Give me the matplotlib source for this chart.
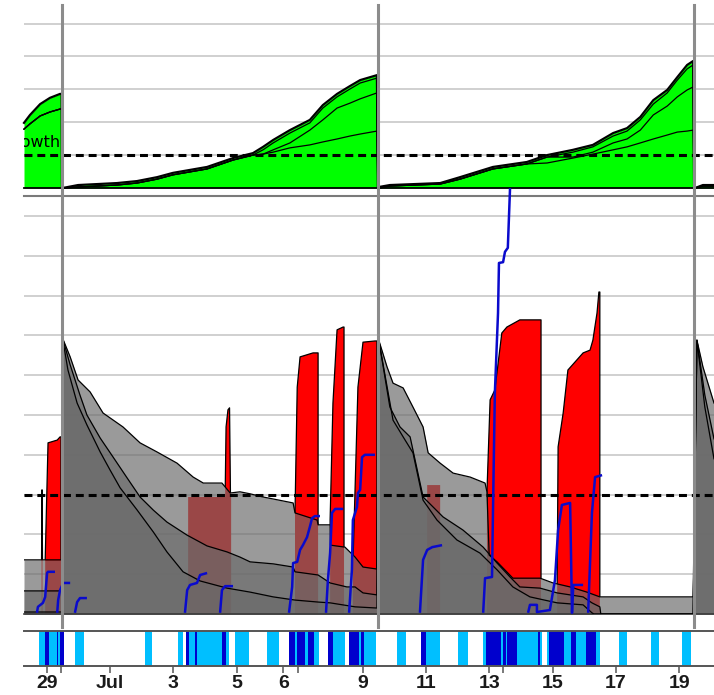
import numpy as np
import matplotlib
matplotlib.use('Agg')
import matplotlib.pyplot as plt
from matplotlib.lines import Line2D
from matplotlib.patches import Polygon
from matplotlib.transforms import blended_transform_factory

# ---------------- data (x = day relative to 1 July; 29 June = -1) ----------------
x_range = (-1.72, 20.10)
period_breaks = [-0.52, 9.47, 19.47]

tick_pos = [-1.0, -0.56, 1.0, 3.0, 5.0, 6.48, 6.96, 9.0, 11.0, 13.0, 13.44, 15.0, 17.0, 19.0]
tick_labels = ['29', '', 'Jul', '3', '5', '6', '', '9', '11', '13', '', '15', '17', '19']

growth_threshold = 1.0
stress_threshold = 3.0

# top panel: cumulative growth curves
green_x = [-1.72, -1.53, -1.21, -0.90, -0.58, -0.53, -0.52,
           -0.50, -0.01, 1.22, 1.85, 2.49, 2.99, 4.07, 4.89, 5.52, 5.84, 6.16, 6.69, 7.32, 7.73, 8.18, 8.59, 8.91, 9.44,
           9.47,
           9.50, 9.85, 11.44, 12.07, 13.11, 14.18, 14.82, 15.64, 16.27, 16.91, 17.35, 17.77, 18.18, 18.62, 18.94, 19.25, 19.44,
           19.47,
           19.50, 19.75, 20.10]
green_top = [1.98, 2.22, 2.55, 2.74, 2.86, 2.86, 0,
             0, 0.09, 0.15, 0.21, 0.33, 0.46, 0.64, 0.91, 1.06, 1.25, 1.46, 1.76, 2.07, 2.52, 2.86, 3.10, 3.28, 3.43,
             0,
             0.03, 0.09, 0.15, 0.33, 0.64, 0.79, 1.00, 1.16, 1.31, 1.67, 1.82, 2.16, 2.67, 2.98, 3.37, 3.74, 3.86,
             0,
             0, 0.09, 0.09]
green_l2 = [1.79, 1.95, 2.19, 2.31, 2.40, 2.40, 0,
            0, 0.03, 0.09, 0.15, 0.27, 0.40, 0.58, 0.85, 1.00, 1.16, 1.37, 1.67, 1.98, 2.43, 2.77, 3.01, 3.19, 3.34,
            0,
            0, 0.06, 0.12, 0.27, 0.58, 0.73, 0.94, 1.09, 1.25, 1.58, 1.73, 2.07, 2.55, 2.89, 3.28, 3.62, 3.74,
            0,
            0, 0.06, 0.06]
green_l3 = [1.79, 1.95, 2.19, 2.31, 2.40, 2.40, 0,
            0, 0.03, 0.09, 0.15, 0.27, 0.40, 0.58, 0.85, 1.00, 1.03, 1.16, 1.37, 1.76, 2.07, 2.43, 2.58, 2.71, 2.89,
            0,
            0, 0.06, 0.12, 0.27, 0.58, 0.73, 0.94, 0.94, 1.09, 1.37, 1.49, 1.76, 2.22, 2.49, 2.77, 2.98, 3.07,
            0,
            0, 0.06, 0.06]
green_l4 = [1.79, 1.95, 2.19, 2.31, 2.40, 2.40, 0,
            0, 0.03, 0.09, 0.15, 0.27, 0.40, 0.58, 0.85, 1.00, 1.03, 1.09, 1.22, 1.31, 1.40, 1.49, 1.58, 1.64, 1.73,
            0,
            0, 0.06, 0.12, 0.27, 0.58, 0.73, 0.76, 0.91, 1.03, 1.16, 1.25, 1.37, 1.49, 1.61, 1.70, 1.73, 1.76,
            0,
            0, 0.06, 0.06]

# middle panel: gray decay curves
gray_top_x = [-1.72, -0.53, -0.50, -0.26, -0.01, 0.37, 0.78, 1.41, 1.95, 2.49, 3.12, 3.63, 3.95, 4.54, 4.80,
              5.11, 5.43, 5.84, 6.16, 6.79, 6.85, 7.55, 7.58, 7.96, 7.97, 8.43, 8.75, 9.00, 9.44,
              9.50, 9.76, 9.95, 10.27, 10.58, 10.90, 11.06, 11.44, 11.85, 12.39, 12.86, 12.92, 12.99, 13.24,
              13.74, 14.60, 15.01, 15.55, 16.08, 16.49, 19.44, 19.56, 19.75, 20.10]
gray_top_y = [1.36, 1.36, 6.93, 6.46, 5.88, 5.58, 5.05, 4.70, 4.30, 4.07, 3.79, 3.44, 3.29, 3.29, 3.04,
              3.07, 3.02, 2.94, 2.89, 2.79, 2.54, 2.36, 2.24, 2.24, 1.73, 1.68, 1.43, 1.18, 1.13,
              6.88, 6.21, 5.80, 5.68, 5.20, 4.70, 4.05, 3.79, 3.54, 3.44, 3.29, 3.07, 1.48, 1.31,
              0.90, 0.90, 0.78, 0.68, 0.55, 0.43, 0.43, 6.88, 6.21, 5.30]
gray_mid_x = [-1.72, -0.53, -0.50, -0.26, 0.05, 0.27, 0.69, 1.10, 1.54, 1.95, 2.37, 2.80, 3.44, 4.07, 4.70,
              5.11, 5.43, 6.16, 6.79, 6.85, 7.58, 7.96, 8.49, 8.75, 9.00, 9.44,
              9.50, 9.85, 10.17, 10.49, 10.90, 11.53, 12.16, 12.80, 13.24, 13.65, 13.96, 14.60, 15.14, 15.96,
              16.24, 16.49, 16.52, 19.44, 19.56, 19.81, 20.10]
gray_mid_y = [0.58, 0.58, 6.93, 6.26, 5.50, 5.00, 4.42, 3.94, 3.42, 2.94, 2.61, 2.31, 1.98, 1.71, 1.56,
              1.43, 1.31, 1.26, 1.18, 1.06, 0.98, 0.78, 0.68, 0.68, 0.53, 0.48,
              6.88, 5.20, 4.70, 4.45, 2.94, 2.44, 2.11, 1.68, 1.28, 0.93, 0.68, 0.65, 0.53, 0.43,
              0.28, 0.18, 0.00, 0.00, 6.88, 5.50, 4.40]
gray_low_x = [-1.72, -0.53, -0.50, -0.33, -0.04, 0.27, 0.69, 1.00, 1.32, 1.86, 2.37, 2.80, 3.31, 3.85, 4.70,
              5.43, 6.16, 6.85, 7.58, 7.96, 8.75, 9.44,
              9.50, 9.95, 10.27, 10.58, 10.90, 11.34, 11.97, 12.70, 13.24, 13.74, 14.28, 15.14, 15.96, 16.24,
              16.30, 19.44, 19.56, 19.81, 20.10]
gray_low_y = [0.05, 0.05, 6.93, 6.13, 5.30, 4.75, 4.07, 3.62, 3.17, 2.61, 2.06, 1.56, 1.06, 0.83, 0.65,
              0.55, 0.43, 0.35, 0.30, 0.28, 0.18, 0.15,
              6.88, 4.87, 4.45, 4.05, 2.86, 2.36, 1.86, 1.53, 1.11, 0.68, 0.43, 0.28, 0.23, 0.03,
              0.00, 0.00, 6.88, 5.20, 3.90]

# middle panel: red areas
red_x = [-1.165, -1.165, -1.15, -1.135, -1.135,
         -1.05, -1.05, -0.96, -0.67, -0.58, -0.55, -0.55,
         3.47, 3.47, 4.64, 4.67, 4.73, 4.78, 4.81, 4.83, 4.83,
         6.85, 6.85, 6.92, 7.01, 7.42, 7.58, 7.58,
         7.96, 7.96, 8.05, 8.18, 8.37, 8.40, 8.40,
         8.68, 8.68, 8.84, 9.00, 9.38, 9.44, 9.44,
         11.03, 11.03, 11.44, 11.44,
         12.92, 12.92, 13.02, 13.17, 13.39, 13.55, 13.96, 14.63, 14.63,
         15.14, 15.14, 15.17, 15.33, 15.48, 15.96, 16.18, 16.27, 16.40, 16.46, 16.49, 16.49]
red_y = [0, 1.36, 3.12, 1.36, 0,
         0, 1.36, 4.30, 4.37, 4.45, 4.45, 0,
         0, 2.94, 2.94, 4.70, 5.13, 5.18, 2.94, 2.94, 0,
         0, 2.54, 5.70, 6.46, 6.56, 6.56, 0,
         0, 2.36, 5.30, 7.14, 7.21, 7.21, 0,
         0, 1.18, 5.70, 6.83, 6.86, 6.86, 0,
         0, 3.24, 3.24, 0,
         0, 3.07, 5.38, 5.63, 7.06, 7.21, 7.39, 7.39, 0,
         0, 0.78, 4.20, 5.05, 6.13, 6.56, 6.63, 6.88, 7.56, 8.09, 8.09, 0]

# middle panel: blue cumulative lines (NaN separates runs)
nan = np.nan
blue_x = [-1.31, -1.28, -1.12, -1.05, -0.99, -0.96, -0.74, nan,
          -0.67, -0.64, -0.58, -0.48, -0.26, nan,
          -0.11, -0.04, 0.05, 0.27, nan,
          3.37, 3.44, 3.53, 3.75, 3.85, 4.07, nan,
          4.48, 4.54, 4.64, 4.89, nan,
          6.66, 6.76, 6.79, 6.92, 7.01, 7.10, 7.23, 7.32, 7.39, 7.48, 7.64, nan,
          7.83, 7.89, 7.96, 8.02, 8.12, 8.37, nan,
          8.56, 8.65, 8.68, 8.81, 8.84, 8.91, 8.97, 9.06, 9.38, nan,
          10.80, 10.90, 11.03, 11.19, 11.50, nan,
          12.80, 12.86, 13.08, 13.11, 13.17, 13.27, 13.30, 13.43, 13.49, 13.58, 13.65, nan,
          14.22, 14.28, 14.50, 14.50, 14.91, 15.07, 15.17, 15.29, 15.55, 15.61, 15.65, 15.96, nan,
          16.12, 16.24, 16.34, 16.56]
blue_y = [0.03, 0.18, 0.28, 0.43, 1.03, 1.06, 1.06, nan,
          0.03, 0.35, 0.60, 0.78, 0.78, nan,
          0.03, 0.30, 0.40, 0.40, nan,
          0.03, 0.60, 0.73, 0.78, 0.98, 1.03, nan,
          0.03, 0.60, 0.70, 0.70, nan,
          0.03, 0.68, 1.28, 1.31, 1.61, 1.73, 1.93, 2.19, 2.41, 2.46, 2.46, nan,
          0.03, 0.85, 1.53, 2.54, 2.64, 2.64, nan,
          0.03, 1.11, 2.36, 2.69, 3.04, 3.12, 3.94, 4.00, 4.00, nan,
          0.03, 1.36, 1.61, 1.68, 1.73, nan,
          0.03, 0.90, 0.93, 2.54, 5.55, 7.56, 8.82, 8.84, 9.10, 9.20, 10.70, nan,
          0.03, 0.23, 0.23, 0.05, 0.10, 0.85, 2.11, 2.74, 2.79, 0.03, 0.73, 0.73, nan,
          0.03, 2.54, 3.44, 3.49]

# bottom strip: event bands
light_start = [-1.24, -0.11, 2.11, 3.15, 3.50, 4.95, 5.96, 6.66, 7.89, 8.59, 10.08, 10.83, 12.00, 12.79, 14.82, 17.09, 18.11, 19.09]
light_end   = [-0.58, 0.18, 2.33, 3.31, 4.76, 5.39, 6.34, 7.61, 8.43, 9.41, 10.36, 11.43, 12.32, 14.66, 16.49, 17.35, 18.36, 19.38]
dark_start = [-1.05, -0.67, -0.58, 3.40, 3.69, 4.54, 6.66, 6.92, 7.26, 7.89, 8.56, 8.94, 10.83, 12.89, 13.43, 13.55, 14.53, 14.88, 15.58, 16.05]
dark_end   = [-0.93, -0.64, -0.45, 3.50, 3.75, 4.67, 6.85, 7.17, 7.45, 8.05, 8.87, 9.03, 10.99, 13.36, 13.52, 13.87, 14.60, 15.36, 15.73, 16.37]

# ---------------- figure ----------------
W, H = 714, 695
fig = plt.figure(figsize=(W / 100, H / 100), dpi=100)
fig.patch.set_facecolor('white')

L, Wd = 24 / W, 690 / W
ax_t = fig.add_axes([L, 1 - 188 / H, Wd, 188 / H])
ax_m = fig.add_axes([L, 1 - 614 / H, Wd, 418 / H])
ax_s = fig.add_axes([L, 1 - 666 / H, Wd, 35 / H])

for ax in (ax_t, ax_m, ax_s):
    ax.set_xlim(*x_range)
    ax.set_yticks([])
    ax.set_facecolor('white')
    for sp in ('left', 'right'):
        ax.spines[sp].set_visible(False)

ax_t.set_ylim(0, 188 / 32.9)
ax_m.set_ylim(0, 418 / 39.8)
ax_s.set_ylim(0, 1)

grid_kw = dict(color='#d0d0d0', lw=1.4, zorder=0)
for lv in range(1, 6):
    ax_t.axhline(lv, **grid_kw)
for lv in range(1, 11):
    ax_m.axhline(lv, **grid_kw)

dash_kw = dict(color='black', lw=2.2, linestyle=(0, (2.6, 1.6)), zorder=6)

# ---- top panel ----
ax_t.spines['top'].set_visible(False)
ax_t.spines['bottom'].set_color('black')
ax_t.spines['bottom'].set_linewidth(1.3)
ax_t.spines['bottom'].set_zorder(5)
ax_t.set_xticks([])
ax_t.fill_between(green_x, 0, green_top, color='#00ff00', lw=0, zorder=1)
for yy, lw in ((green_l4, 0.9), (green_l3, 0.9), (green_l2, 0.9), (green_top, 1.6)):
    ax_t.plot(green_x, yy, color='black', lw=lw, zorder=3, clip_on=False)
ax_t.axhline(growth_threshold, **dash_kw)
ax_t.text(-2.41, 1.25, 'Growth', fontsize=11.5, color='black', ha='left', va='baseline',
          clip_on=True, zorder=4)

# ---- middle panel ----
ax_m.set_xticks([])
ax_m.spines['top'].set_color('#7a7a7a')
ax_m.spines['top'].set_linewidth(1.5)
ax_m.spines['bottom'].set_color('#3a3a3a')
ax_m.spines['bottom'].set_linewidth(1.2)

ax_m.fill(red_x, red_y, color='#ff0000', lw=0, zorder=1)
for gx, gy in ((gray_top_x, gray_top_y), (gray_mid_x, gray_mid_y), (gray_low_x, gray_low_y)):
    ax_m.fill_between(gx, 0, gy, color='#6a6a6a', alpha=0.68, lw=0, zorder=2)
for gx, gy in ((gray_top_x, gray_top_y), (gray_mid_x, gray_mid_y), (gray_low_x, gray_low_y)):
    ax_m.plot(gx, gy, color='black', lw=0.9, zorder=3)

above = Polygon(list(zip(gray_top_x, gray_top_y)) + [(25, 30), (-5, 30)], closed=True,
                transform=ax_m.transData)
red_edge, = ax_m.plot(red_x, red_y, color='black', lw=0.9, zorder=3)
red_edge.set_clip_path(above)

ax_m.axhline(stress_threshold, **dash_kw)
ax_m.plot(blue_x, blue_y, color='#0a0acc', lw=1.8, zorder=7, clip_on=False,
          solid_joinstyle='round', solid_capstyle='butt')

# ---- bottom strip ----
for s, e in zip(light_start, light_end):
    ax_s.axvspan(s, e, color='#00bfff', lw=0, zorder=1)
for s, e in zip(dark_start, dark_end):
    ax_s.axvspan(s, e, color='#0000cd', lw=0, zorder=2)
for sp in ('top', 'bottom'):
    ax_s.spines[sp].set_color('#555555')
    ax_s.spines[sp].set_linewidth(1.4)
ax_s.set_xticks(tick_pos)
ax_s.set_xticklabels(tick_labels, fontsize=14, fontweight='bold', family='Liberation Sans',
                     color='#1a1a1a')
ax_s.tick_params(axis='x', length=5, width=1.1, color='#555555', pad=1.5)

# ---- period separators spanning all panels ----
trans = blended_transform_factory(ax_m.transData, fig.transFigure)
for xv in period_breaks:
    fig.add_artist(Line2D([xv, xv], [1 - 627 / H, 1 - 5 / H], transform=trans,
                          color='#8c8c8c', lw=2.2, zorder=10))

fig.savefig('out.png', dpi=100, facecolor='white')
